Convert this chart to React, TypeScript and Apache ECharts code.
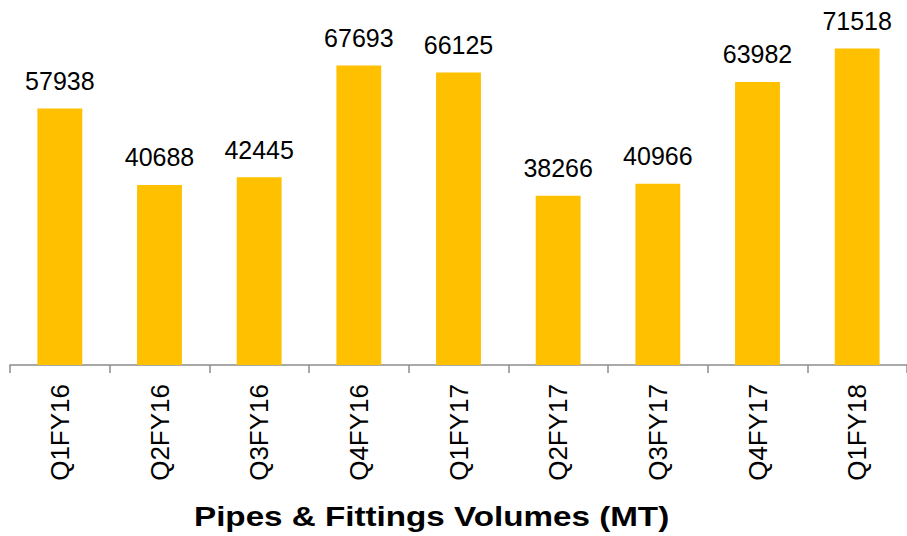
import React, { useEffect, useRef } from "react";
import * as echarts from "echarts";

const categories = ["Q1FY16", "Q2FY16", "Q3FY16", "Q4FY16", "Q1FY17", "Q2FY17", "Q3FY17", "Q4FY17", "Q1FY18"];
const volumes = [57938, 40688, 42445, 67693, 66125, 38266, 40966, 63982, 71518];
const chartTitle = "Pipes & Fittings Volumes (MT)";

const FONT = "Liberation Sans, Arial, sans-serif";

export default function App() {
  const ref = useRef<HTMLDivElement>(null);
  useEffect(() => {
    if (!ref.current) return;
    const chart = echarts.init(ref.current, null, { renderer: "svg" });
    chart.setOption({
      animation: false,
      backgroundColor: "#ffffff",
      textStyle: { fontFamily: FONT },
      grid: { left: 10, width: 900, top: 11, bottom: 171 },
      xAxis: {
        type: "category",
        data: categories,
        axisLine: { lineStyle: { color: "#8c8c8c", width: 1.5 } },
        axisTick: { show: true, length: 8, lineStyle: { color: "#8c8c8c", width: 1.5 } },
        axisLabel: { rotate: 90, fontSize: 26, color: "#000", margin: 19, fontFamily: FONT },
      },
      yAxis: { type: "value", min: 0, max: 80000, show: false, splitLine: { show: false } },
      series: [
        {
          type: "bar",
          data: volumes,
          barWidth: "45%",
          itemStyle: { color: "#FFC000" },
          label: {
            show: true,
            position: "top",
            distance: 15,
            fontSize: 25,
            color: "#000",
            fontFamily: FONT,
          },
        },
      ],
      graphic: [
        {
          type: "text",
          x: 194,
          y: 517,
          scaleX: 1.23,
          style: {
            text: chartTitle,
            fontSize: 27,
            fontWeight: "bold",
            fill: "#000",
            align: "left",
            verticalAlign: "middle",
            fontFamily: FONT,
          },
        },
      ],
    });
    return () => chart.dispose();
  }, []);
  return <div ref={ref} style={{ position: "fixed", left: 0, top: 0, width: 907, height: 536 }} />;
}
